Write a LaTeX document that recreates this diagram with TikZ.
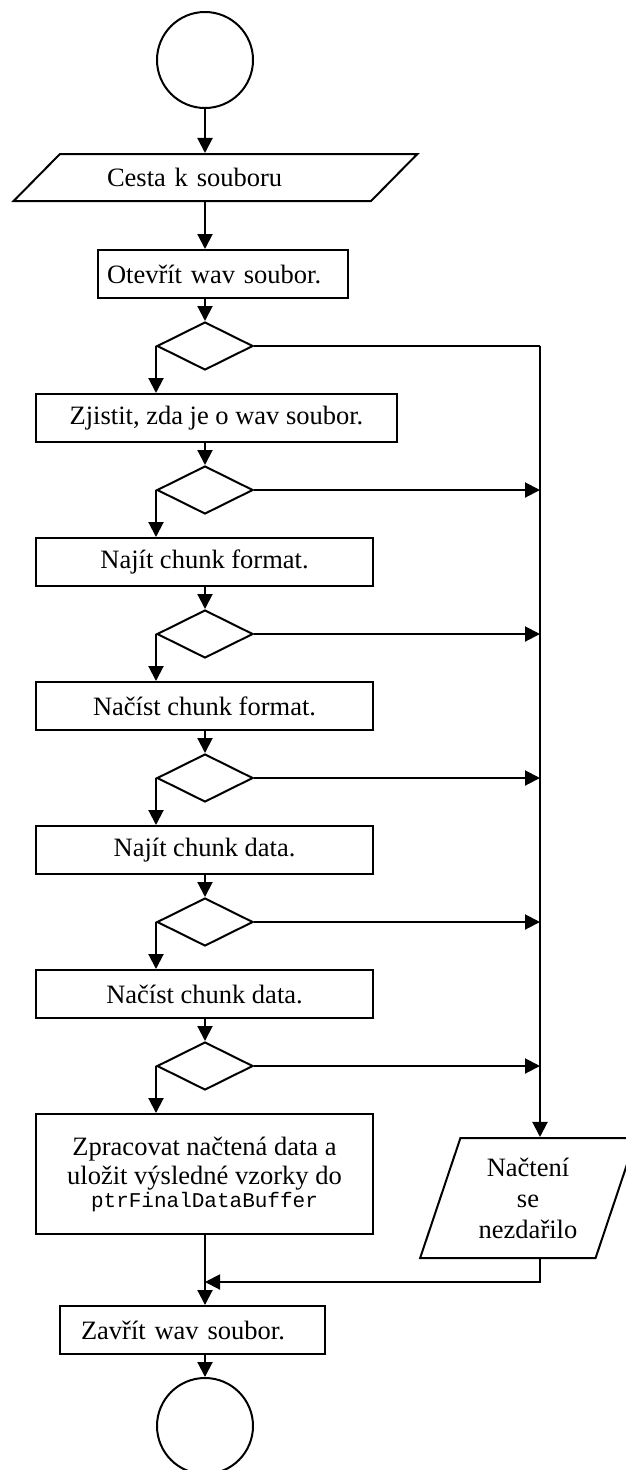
\documentclass[tikz,border=0pt]{standalone}
\usepackage{fontspec}
\setmainfont{Liberation Serif}
\setmonofont{Liberation Mono}
\usetikzlibrary{shapes.geometric,arrows.meta}

\begin{document}
\begin{tikzpicture}[x=1pt,y=-1pt,line width=2pt,
  every node/.style={font=\fontsize{26.5}{31}\selectfont},
  arr/.style={-{Triangle[length=15pt,width=15pt]}},
  term/.style={draw,circle,minimum size=96pt,inner sep=0pt},
  box/.style={draw,rectangle,minimum height=48pt,inner sep=0pt},
  cond/.style={draw,diamond,minimum width=96pt,minimum height=48pt,inner sep=0pt},
  io/.style={draw,trapezium,trapezium stretches=true,inner sep=0pt}]
\useasboundingbox (0,0) rectangle (626,1470);
% Reading a wav file step by step
\node[term] (start) at (205,60) {};
\node[io,trapezium left angle=30,trapezium right angle=150,minimum width=405pt,minimum height=47pt,text width=217pt,align=left] (input) at (215.5,177.5) {Cesta k souboru};
\node[box,minimum width=250pt,text width=232pt,inner xsep=9pt,align=left] (open) at (223,274) {Otevřít wav soubor.};
\node[cond] (d1) at (205,346) {};
\node[box,minimum width=361pt] (check) at (216.5,418) {Zjistit, zda je o wav soubor.};
\node[cond] (d2) at (205,490) {};
\node[box,minimum width=337pt] (findfmt) at (204.5,562) {Najít chunk format.};
\node[cond] (d3) at (205,634) {};
\node[box,minimum width=337pt] (readfmt) at (204.5,706) {Načíst chunk format.};
\node[cond] (d4) at (205,778) {};
\node[box,minimum width=337pt] (finddata) at (204.5,850) {Najít chunk data.};
\node[cond] (d5) at (205,922) {};
\node[box,minimum width=337pt] (readdata) at (204.5,994) {Načíst chunk data.};
\node[cond] (d6) at (205,1066) {};
\node[box,minimum width=337pt,minimum height=120pt,align=center,font=\fontsize{26.5}{29}\selectfont] (process) at (204.5,1174) {Zpracovat načtená data a\\uložit výsledné vzorky do\\[-6pt]{\fontsize{21}{23}\selectfont\ttfamily ptrFinalDataBuffer}};
\node[io,trapezium left angle=70,trapezium right angle=110,minimum width=216pt,minimum height=120pt,align=center] (fail) at (528,1198) {Načtení\\se\\nezdařilo};
\node[box,minimum width=265pt,text width=223pt,inner xsep=21pt,align=left] (close) at (192.5,1330) {Zavřít wav soubor.};
\node[term] (end) at (205,1426) {};
\coordinate (rail) at (540,346);
\coordinate (join) at (205,1282);

% main line
\draw[arr] (start) -- (start |- input.north);
\draw[arr] (start |- input.south) -- (start |- open.north);
\draw[arr] (start |- open.south) -- (d1);
\draw[arr] (d1.west) -- (d1.west |- check.north);
\draw[arr] (d1 |- check.south) -- (d2);
\draw[arr] (d2.west) -- (d2.west |- findfmt.north);
\draw[arr] (d3 |- findfmt.south) -- (d3);
\draw[arr] (d3.west) -- (d3.west |- readfmt.north);
\draw[arr] (d4 |- readfmt.south) -- (d4);
\draw[arr] (d4.west) -- (d4.west |- finddata.north);
\draw[arr] (d5 |- finddata.south) -- (d5);
\draw[arr] (d5.west) -- (d5.west |- readdata.north);
\draw[arr] (d6 |- readdata.south) -- (d6);
\draw[arr] (d6.west) -- (d6.west |- process.north);
\draw[arr] (end |- process.south) -- (end |- close.north);
\draw[arr] (end |- close.south) -- (end);

% error branch
\draw (d1.east) -- (rail);
\draw[arr] (rail) -- (rail |- fail.north);
\draw[arr] (d2.east) -- (rail |- d2.east);
\draw[arr] (d3.east) -- (rail |- d3.east);
\draw[arr] (d4.east) -- (rail |- d4.east);
\draw[arr] (d5.east) -- (rail |- d5.east);
\draw[arr] (d6.east) -- (rail |- d6.east);
\draw[arr] (rail |- fail.south) |- (join);
\end{tikzpicture}
\end{document}
